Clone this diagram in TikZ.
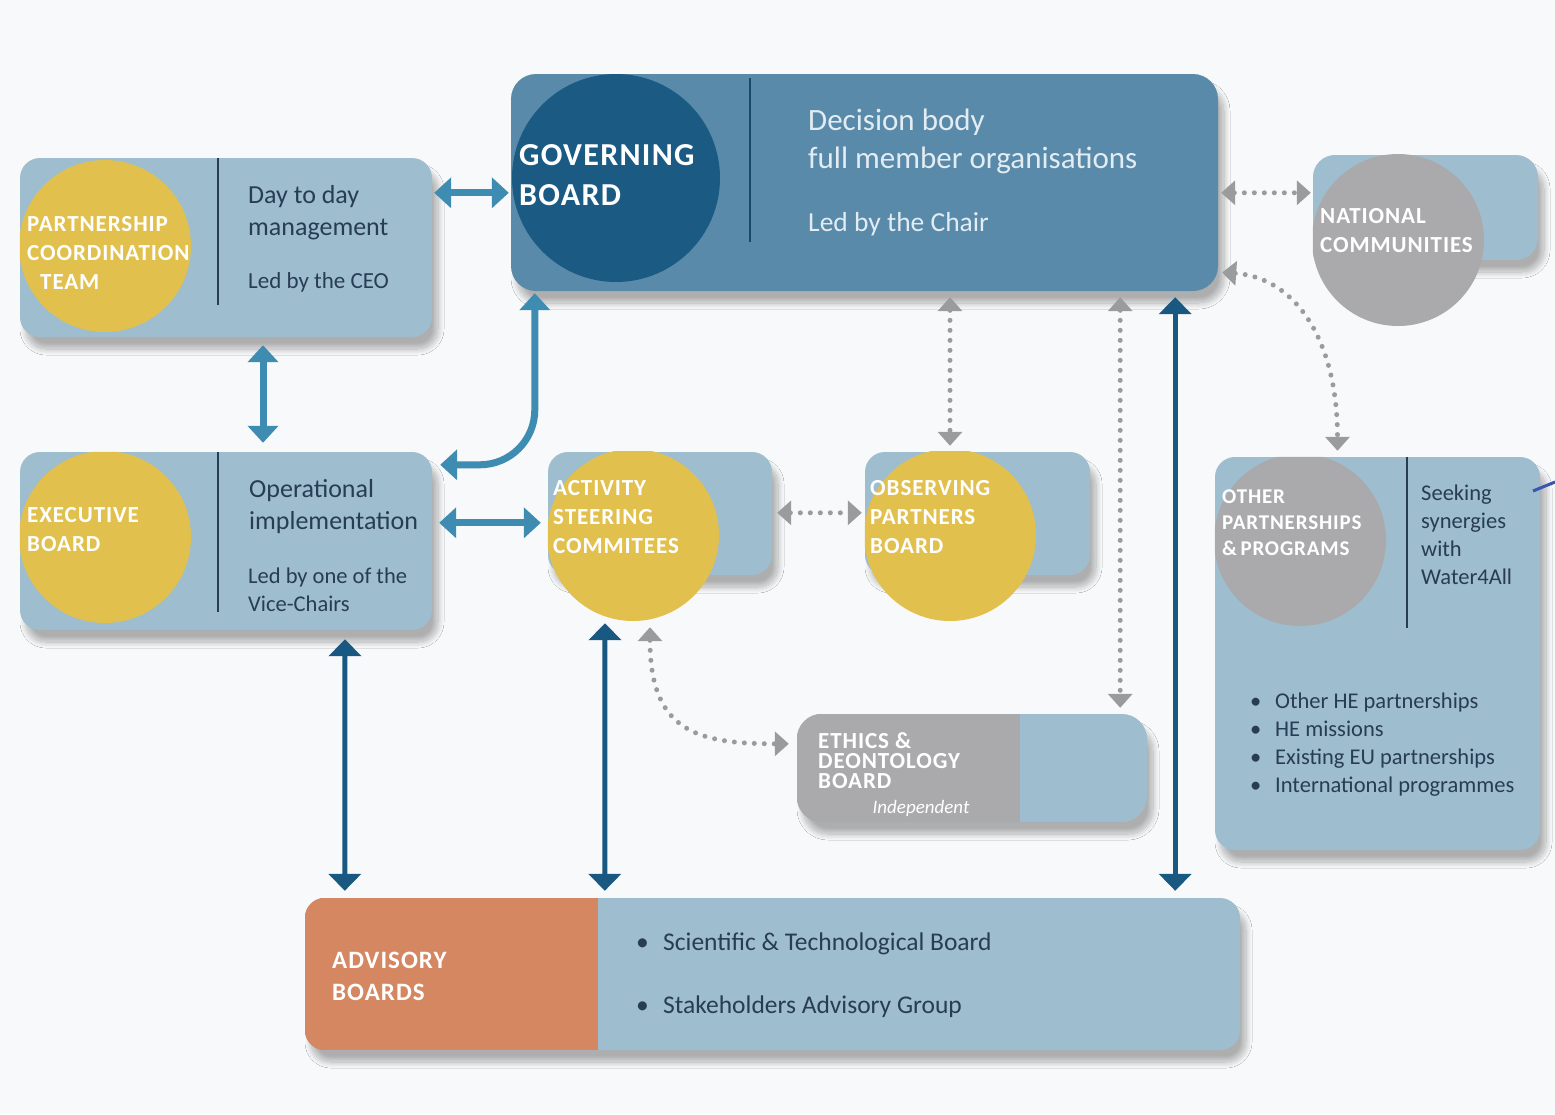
\documentclass[tikz,border=0pt]{standalone}
\usepackage{fontspec}
\setmainfont{Carlito}
\newfontfamily\capsfont[LetterSpace=4]{Carlito}
\usetikzlibrary{arrows.meta, shadows.blur}

\definecolor{paper}{RGB}{248,249,250}
\definecolor{paleblue}{RGB}{158,189,206}
\definecolor{gbblue}{RGB}{90,138,170}
\definecolor{gbdark}{RGB}{27,90,130}
\definecolor{gold}{RGB}{226,192,78}
\definecolor{stone}{RGB}{170,170,172}
\definecolor{clay}{RGB}{212,135,96}
\definecolor{linkteal}{RGB}{62,140,178}
\definecolor{linkdark}{RGB}{25,88,128}
\definecolor{dotgrey}{RGB}{155,155,158}
\definecolor{inkblue}{RGB}{40,60,85}
\definecolor{frost}{RGB}{226,236,243}
\definecolor{penblue}{RGB}{58,85,176}

\tikzset{
    box/.style={ % light panels
        draw=none, fill=paleblue, rounded corners=20pt, inner sep=0pt,
        blur shadow={shadow xshift=6pt, shadow yshift=-12pt,
            shadow blur radius=6pt, shadow blur steps=12, shadow opacity=30}
    },
    disc/.style={circle, draw=none, inner sep=0pt},
    title/.style={text=white, align=left, anchor=west, inner sep=0pt,
        font=\capsfont\bfseries\fontsize{23}{29}\selectfont},
    body/.style={text=inkblue, align=left, anchor=west, inner sep=0pt,
        font=\fontsize{26}{32}\selectfont},
    small/.style={body, font=\fontsize{22.5}{28}\selectfont},
    divider/.style={draw=inkblue, line width=1.5pt},
    link/.style={<->, draw=linkteal, line width=7pt,
        >={Triangle[length=17pt, width=30pt]}},
    mainlink/.style={<->, draw=linkdark, line width=5pt,
        >={Triangle[length=17pt, width=32pt]}},
    softlink/.style={<->, draw=dotgrey, line width=5pt, line cap=round,
        dash pattern=on 0pt off 10pt,
        >={Triangle[length=14pt, width=24pt]}}
}

\begin{document}
\begin{tikzpicture}[x=1pt, y=-1pt]
    \fill[paper] (0,0) rectangle (1555,1114);
    \useasboundingbox (0,0) rectangle (1555,1114);

    % panels
    \node[box, minimum width=412pt, minimum height=179pt] (pct) at (226,247.5) {};
    \node[box, fill=gbblue, rounded corners=25pt, minimum width=707pt, minimum height=217pt] (gb) at (864.5,182.5) {};
    \node[box, rounded corners=22pt, minimum width=225pt, minimum height=105pt] (nc) at (1425.5,207.5) {};
    \node[box, minimum width=412pt, minimum height=178pt] (eb) at (226,541) {};
    \node[box, minimum width=224pt, minimum height=123pt] (asc) at (660,513.5) {};
    \node[box, minimum width=225pt, minimum height=123pt] (opb) at (977.5,513.5) {};
    \node[box, minimum width=325pt, minimum height=393pt] (opp) at (1377.5,653.5) {};
    \node[box, rounded corners=25pt, minimum width=350pt, minimum height=108pt] (edb) at (972,768) {};
    \node[box, minimum width=935pt, minimum height=152pt] (ab) at (772.5,974) {};

    % discs and coloured parts
    \begin{scope}
        \clip[rounded corners=20pt] (pct.north west) rectangle (pct.south east);
        \node[disc, fill=gold, minimum size=172pt] (pctdisc) at (105,246) {};
    \end{scope}
    \begin{scope}
        \clip[rounded corners=25pt] (gb.north west) rectangle (gb.south east);
        \node[disc, fill=gbdark, minimum size=208pt] (gbdisc) at (616,178) {};
    \end{scope}
    \begin{scope}
        \clip (nc.north west) rectangle ++(200,200);
        \node[disc, fill=stone, minimum size=172pt] (ncdisc) at (1398,240) {};
    \end{scope}
    \begin{scope}
        \clip[rounded corners=20pt] (eb.north west) rectangle (eb.south east);
        \node[disc, fill=gold, minimum size=172pt] (ebdisc) at (105,537) {};
    \end{scope}
    \begin{scope}
        \clip (asc.north west) rectangle ++(200,200);
        \node[disc, fill=gold, minimum size=172pt] (ascdisc) at (633,535) {};
    \end{scope}
    \begin{scope}
        \clip (opb.north west) rectangle ++(200,200);
        \node[disc, fill=gold, minimum size=172pt] (opbdisc) at (950,535) {};
    \end{scope}
    \begin{scope}
        \clip[rounded corners=20pt] (opp.north west) rectangle (opp.south east);
        \node[disc, fill=stone, minimum size=172pt] (oppdisc) at (1300,540) {};
    \end{scope}
    \begin{scope}
        \clip[rounded corners=25pt] (edb.north west) rectangle (edb.south east);
        \fill[stone] (edb.north west) rectangle ([xshift=223pt]edb.south west);
    \end{scope}
    \begin{scope}
        \clip[rounded corners=20pt] (ab.north west) rectangle (ab.south east);
        \fill[clay] (ab.north west) rectangle ([xshift=293pt]ab.south west);
    \end{scope}

    % dividers
    \draw[divider] ([xshift=198pt]pct.north west) -- ++(0,147);
    \draw[divider, draw=gbdark!80!black] ([xshift=239pt,yshift=-4pt]gb.north west) -- ++(0,164);
    \draw[divider] ([xshift=198pt]eb.north west) -- ++(0,160);
    \draw[divider] ([xshift=192pt]opp.north west) -- ++(0,171);

    % texts
    \node[title] (pcttitle) at (27,253) {PARTNERSHIP\\COORDINATION\\\hspace*{13pt}TEAM};
    \node[body] (pctrole) at (248,213) {Day to day\\management};
    \node[small, font=\fontsize{23}{28}\selectfont] (pctlead) at (248,282) {Led by the CEO};

    \node[title, font=\capsfont\bfseries\fontsize{32}{40}\selectfont] (gbtitle) at (519,175) {GOVERNING\\BOARD};
    \node[body, text=frost, font=\fontsize{31}{38}\selectfont] (gbrole) at (808,141) {Decision body\\full member organisations};
    \node[body, text=frost, font=\fontsize{27.5}{32}\selectfont] (gblead) at (808,224) {Led by the Chair};

    \node[title] (nctitle) at (1320,230.5) {NATIONAL\\COMMUNITIES};

    \node[title] (ebtitle) at (27,529.5) {EXECUTIVE\\BOARD};
    \node[body] (ebrole) at (249,507) {Operational\\implementation};
    \node[small] (eblead) at (248,590) {Led by one of the\\Vice-Chairs};

    \node[title] (asctitle) at (553,517) {ACTIVITY\\STEERING\\COMMITEES};
    \node[title] (opbtitle) at (870,517) {OBSERVING\\PARTNERS\\BOARD};

    \node[title, font=\capsfont\bfseries\fontsize{21}{26}\selectfont] (opptitle) at (1222,523) {OTHER\\PARTNERSHIPS\\\&\,PROGRAMS};
    \node[small] (opprole) at (1421,535) {Seeking\\synergies\\with\\Water4All};
    \node[small] (opplist) at (1250,745) {\makebox[25pt][l]{\textbullet}Other HE partnerships\\
        \makebox[25pt][l]{\textbullet}HE missions\\
        \makebox[25pt][l]{\textbullet}Existing EU partnerships\\
        \makebox[25pt][l]{\textbullet}International programmes};

    \node[title, font=\capsfont\bfseries\fontsize{23}{20}\selectfont] (edbtitle) at (818,761) {ETHICS \&\\DEONTOLOGY\\BOARD};
    \node[text=white, inner sep=0pt, font=\itshape\fontsize{19}{22}\selectfont] (edbnote) at (921,808) {Independent};

    \node[title, font=\capsfont\bfseries\fontsize{25}{32}\selectfont] (abtitle) at (332,976) {ADVISORY\\BOARDS};
    \node[body, font=\fontsize{25.5}{63}\selectfont] (ablist) at (636,975.5) {\makebox[27pt][l]{\textbullet}Scientific \& Technological Board\\
        \makebox[27pt][l]{\textbullet}Stakeholders Advisory Group};

    % solid links
    \draw[link, shorten <=2pt, shorten >=2pt] ([yshift=-35pt]pct.north east) -- ([yshift=-119pt]gb.north west);
    \draw[link, shorten <=8pt, shorten >=9pt] ([xshift=37pt]pct.south) -- ([xshift=37pt]eb.north);
    \draw[link, rounded corners=55pt, shorten <=2pt, shorten >=8pt] ([xshift=24pt]gb.south west) |- ([yshift=-13pt]eb.north east);
    \draw[link, shorten <=7pt, shorten >=7pt] ([yshift=-71pt]eb.north east) -- ([yshift=-71pt]asc.north west);

    \draw[mainlink, shorten <=9pt, shorten >=7pt] ([xshift=119pt]eb.south) -- ([xshift=40pt]ab.north west);
    \draw[mainlink, shorten <=2pt, shorten >=7pt] ([xshift=-28pt]ascdisc.south) -- ([xshift=300pt]ab.north west);
    \draw[mainlink, shorten <=6pt, shorten >=7pt] ([xshift=-43pt]gb.south east) -- ([xshift=-65pt]ab.north east);

    % dotted links
    \draw[softlink, shorten <=3pt, shorten >=2pt] ([yshift=-119pt]gb.north east) -- ([yshift=-38pt]nc.north west);
    \draw[softlink, shorten <=6pt, shorten >=6pt] ([xshift=85.5pt]gb.south) -- ([xshift=-27.5pt]opb.north);
    \draw[softlink, shorten <=6pt, shorten >=6pt] ([xshift=-98pt]gb.south east) -- ([xshift=-27pt]edb.north east);
    \draw[softlink, shorten <=4pt, shorten >=6pt] ([yshift=19pt]gb.south east)
        .. controls +(75,5) and +(0,-120) .. ([xshift=-40pt]opp.north);
    \draw[softlink, shorten <=5pt, shorten >=3pt] ([yshift=-61pt]asc.north east) -- ([yshift=-61pt]opb.north west);
    \draw[softlink, shorten <=6pt, shorten >=8pt] ([xshift=17pt]ascdisc.south)
        .. controls +(0,110) and +(-100,0) .. ([yshift=-30pt]edb.north west);

    % stray stroke at the right edge
    \coordinate (cutA) at (1533,491);
    \coordinate (cutB) at (1555,482);
    \draw[penblue, line width=3pt] (cutA) -- (cutB);
\end{tikzpicture}
\end{document}
